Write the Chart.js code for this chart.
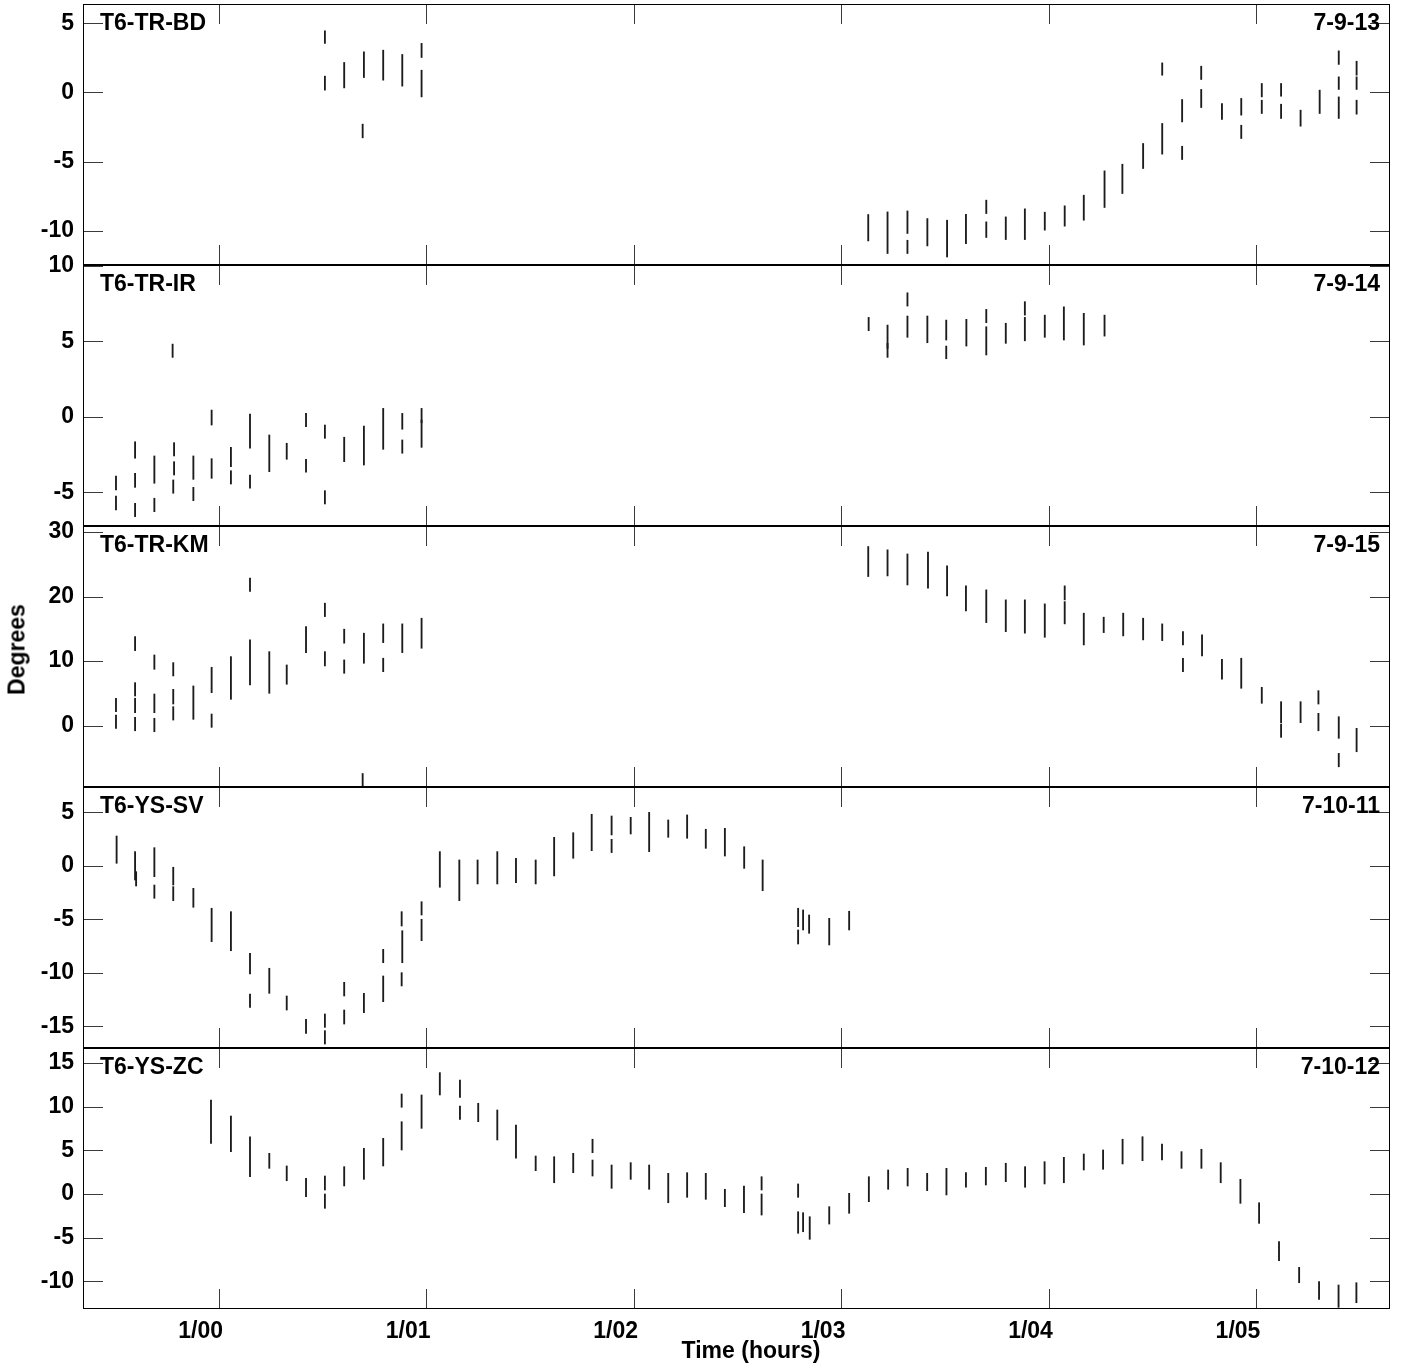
<!DOCTYPE html>
<html>
<head>
<meta charset="utf-8">
<script src="https://cdn.jsdelivr.net/npm/chart.js@4.4.1/dist/chart.umd.min.js"></script>
<style>
  body { margin: 0; background: #fff; width: 1404px; height: 1368px; position: relative; overflow: hidden;
         font-family: 'Liberation Sans', Arial, sans-serif; }
  .panel { position: absolute; left: 0; width: 1404px; }
  .lbl { position: absolute; font-weight: bold; font-size: 23px; line-height: 23px; color: #000; white-space: nowrap; }
</style>
</head>
<body>
<script>
// --- Data ---

const xTickHours = [0, 1, 2, 3, 4, 5];
const xTickLabels = ['1/00', '1/01', '1/02', '1/03', '1/04', '1/05'];
const xRange = [-0.654, 5.646];

const panelNames = ['T6-TR-BD', 'T6-TR-IR', 'T6-TR-KM', 'T6-YS-SV', 'T6-YS-ZC'];
const panelDates = ['7-9-13', '7-9-14', '7-9-15', '7-10-11', '7-10-12'];
const panelYTicks = [[5, 0, -5, -10], [10, 5, 0, -5], [30, 20, 10, 0], [5, 0, -5, -10, -15], [15, 10, 5, 0, -5, -10]];
const panelYRange = [[-12.48, 6.40], [-7.24, 10.05], [-9.49, 30.93], [-17.01, 7.38], [-13.17, 16.72]];

// [hour, low deg, high deg]
const bdSegments = [
  [0.512, 3.55, 4.46], [0.512, 0.17, 1.18], [0.605, 0.33, 2.17], [0.694, -3.28, -2.29], [0.700, 1.08, 2.94],
  [0.793, 0.89, 3.06], [0.885, 0.46, 2.75], [0.978, 2.53, 3.55], [0.978, -0.32, 1.61],
  [3.131, -10.74, -8.83], [3.224, -11.65, -8.64], [3.320, -10.2, -8.57], [3.320, -11.65, -10.69],
  [3.416, -11.1, -9.12], [3.511, -11.9, -9.24], [3.602, -10.93, -8.81], [3.700, -8.76, -7.79],
  [3.700, -10.49, -9.36], [3.794, -10.64, -9.0], [3.886, -10.64, -8.42], [3.982, -9.96, -8.66],
  [4.078, -9.67, -8.2], [4.170, -9.24, -7.43], [4.270, -8.32, -5.67], [4.356, -7.31, -5.19],
  [4.456, -5.5, -3.69], [4.548, -4.46, -2.24], [4.548, 1.25, 2.14], [4.644, -2.13, -0.51],
  [4.644, -4.85, -3.89], [4.736, 0.94, 1.9], [4.736, -1.09, 0.22], [4.836, -1.95, -0.8],
  [4.929, -1.64, -0.43], [4.929, -3.33, -2.37], [5.028, -0.32, 0.65], [5.028, -1.52, -0.56],
  [5.121, -0.27, 0.65], [5.121, -1.88, -0.85], [5.215, -2.44, -1.28], [5.307, -1.52, 0.17],
  [5.399, 2.03, 3.01], [5.399, 0.22, 1.13], [5.399, -1.88, -0.32],
  [5.485, 1.25, 2.26], [5.485, 0.22, 1.13], [5.485, -1.57, -0.56]
];

const irSegments = [
  [-0.495, -4.85, -3.93], [-0.495, -6.18, -5.25],
  [-0.403, -2.75, -1.66], [-0.403, -4.68, -3.75], [-0.403, -6.62, -5.74],
  [-0.310, -4.41, -2.6], [-0.310, -6.29, -5.4],
  [-0.222, 3.93, 4.81], [-0.215, -2.6, -1.72], [-0.215, -3.86, -2.98], [-0.219, -5.07, -4.19],
  [-0.122, -4.15, -2.6], [-0.122, -5.56, -4.68],
  [-0.034, -0.55, 0.44], [-0.034, -4.08, -2.78],
  [0.059, -3.31, -2.03], [0.059, -4.46, -3.58],
  [0.151, -2.09, 0.18], [0.151, -4.74, -3.86],
  [0.244, -3.64, -1.21], [0.328, -2.82, -1.76],
  [0.421, -0.66, 0.22], [0.421, -3.68, -2.82],
  [0.512, -1.43, -0.55], [0.512, -5.78, -4.9],
  [0.605, -2.98, -1.36], [0.700, -3.2, -0.62], [0.793, -2.16, 0.55],
  [0.885, -0.83, 0.22], [0.885, -2.42, -1.54],
  [0.978, -0.4, 0.55], [0.978, -2.03, -0.22],
  [3.133, 5.7, 6.58], [3.224, 4.53, 6.07], [3.224, 3.93, 4.86],
  [3.320, 5.26, 6.67], [3.320, 7.33, 8.21], [3.416, 4.9, 6.67],
  [3.507, 5.08, 6.4], [3.507, 3.84, 4.68], [3.604, 4.68, 6.45],
  [3.700, 6.23, 7.11], [3.700, 4.09, 5.96], [3.794, 4.86, 6.19],
  [3.886, 6.73, 7.62], [3.886, 5.03, 6.58], [3.982, 5.26, 6.73],
  [4.074, 5.08, 7.28], [4.170, 4.75, 6.85], [4.270, 5.34, 6.73]
];

const kmSegments = [
  [-0.495, 2.17, 4.25], [-0.495, -0.4, 1.66],
  [-0.403, 11.63, 13.8], [-0.403, 4.6, 6.67], [-0.403, 2.02, 4.25], [-0.403, -0.78, 1.3],
  [-0.310, 8.74, 10.96], [-0.310, 2.02, 4.91], [-0.310, -0.93, 1.15],
  [-0.219, 7.71, 9.77], [-0.219, 3.36, 5.64], [-0.219, 0.88, 2.95],
  [-0.122, 0.99, 6.16], [-0.034, 5.12, 9.05], [-0.034, -0.25, 1.81],
  [0.059, 4.09, 10.7], [0.151, 20.78, 22.85], [0.151, 6.31, 13.29],
  [0.244, 5.02, 11.47], [0.328, 6.42, 9.41], [0.421, 11.32, 15.35],
  [0.512, 16.9, 18.98], [0.512, 9.26, 11.47],
  [0.605, 12.78, 14.95], [0.605, 8.12, 10.19],
  [0.694, -9.5, -7.4], [0.700, 9.67, 14.33],
  [0.793, 12.87, 15.77], [0.793, 8.37, 10.45],
  [0.885, 11.32, 15.77], [0.978, 12.0, 16.65],
  [3.131, 23.1, 27.75], [3.224, 23.2, 27.24], [3.320, 21.8, 26.6], [3.419, 21.3, 26.9],
  [3.511, 20.1, 24.76], [3.602, 17.78, 21.66], [3.700, 15.97, 21.04], [3.794, 14.57, 19.49],
  [3.886, 14.33, 19.49], [3.982, 13.7, 18.87], [4.078, 19.49, 21.66], [4.078, 15.77, 19.22],
  [4.170, 12.51, 17.43], [4.266, 14.42, 16.81], [4.360, 13.91, 17.43], [4.456, 13.29, 16.65],
  [4.548, 13.18, 15.77], [4.648, 12.51, 14.57], [4.648, 8.37, 10.45], [4.740, 10.81, 14.06],
  [4.836, 7.19, 10.29], [4.929, 5.8, 10.45], [5.028, 3.47, 5.95],
  [5.121, 0.47, 3.72], [5.121, -1.8, 0.26], [5.215, 0.47, 3.72],
  [5.301, 3.36, 5.43], [5.301, -0.78, 1.92],
  [5.399, -1.95, 1.4], [5.399, -6.36, -4.28], [5.485, -4.03, -0.4]
];

const svSegments = [
  [-0.492, 0.25, 2.8], [-0.403, -1.31, 1.34], [-0.398, -1.87, -0.53],
  [-0.310, -1.0, 1.71], [-0.310, -3.02, -1.78],
  [-0.219, -1.78, -0.12], [-0.219, -3.24, -1.93],
  [-0.122, -3.86, -2.09], [-0.034, -7.07, -3.95], [0.059, -7.92, -4.27],
  [0.151, -10.09, -8.16], [0.151, -13.21, -11.96], [0.244, -11.9, -9.56],
  [0.328, -13.46, -12.15], [0.421, -15.64, -14.33],
  [0.512, -15.08, -13.83], [0.512, -16.64, -15.39],
  [0.605, -12.15, -10.87], [0.605, -14.77, -13.46], [0.700, -13.71, -11.9],
  [0.793, -9.04, -7.79], [0.793, -12.68, -10.28],
  [0.882, -5.61, -4.27], [0.885, -9.04, -6.05], [0.882, -11.21, -9.97],
  [0.978, -4.58, -3.34], [0.978, -6.98, -4.98],
  [1.066, -1.99, 1.34], [1.160, -3.24, 0.56], [1.248, -1.68, 0.56], [1.343, -1.68, 1.34],
  [1.433, -1.56, 0.72], [1.528, -1.68, 0.56], [1.617, -0.93, 2.68], [1.709, 0.72, 3.11],
  [1.798, 1.43, 4.83], [1.894, 2.9, 4.67], [1.894, 1.25, 2.49], [1.986, 2.99, 4.55],
  [2.075, 1.34, 5.01], [2.167, 2.68, 4.3], [2.258, 2.59, 4.77], [2.348, 1.65, 3.43],
  [2.440, 0.93, 3.52], [2.533, -0.22, 1.8], [2.622, -2.31, 0.56],
  [2.793, -5.67, -3.95], [2.793, -7.29, -5.98], [2.817, -5.98, -4.11], [2.846, -6.29, -4.58],
  [2.943, -7.38, -4.89], [3.039, -5.98, -4.23]
];

const zcSegments = [
  [-0.037, 5.8, 10.77], [0.059, 4.85, 8.93], [0.151, 1.98, 6.56], [0.244, 2.94, 4.66],
  [0.328, 1.52, 3.21], [0.421, -0.31, 1.8], [0.512, 0.46, 2.06], [0.512, -1.64, 0],
  [0.605, 0.92, 3.13], [0.700, 1.68, 5.23], [0.793, 3.21, 6.38],
  [0.882, 9.93, 11.45], [0.882, 5.04, 8.28], [0.978, 7.52, 11.34], [1.066, 11.34, 13.9],
  [1.163, 11.07, 13.06], [1.163, 8.55, 10.08], [1.251, 8.28, 10.39], [1.343, 6.19, 9.62],
  [1.433, 4.09, 7.9], [1.528, 2.67, 4.35], [1.617, 1.29, 4.27], [1.709, 2.44, 4.66],
  [1.802, 4.73, 6.27], [1.802, 2.06, 3.89], [1.894, 0.65, 3.32], [1.986, 1.68, 3.59],
  [2.075, 0.54, 3.32], [2.167, -1.0, 2.37], [2.258, -0.38, 2.44], [2.348, -0.61, 2.37],
  [2.440, -1.45, 0.54], [2.532, -2.14, 0.92], [2.617, 0.46, 1.98], [2.617, -2.41, 0],
  [2.793, -0.38, 1.15], [2.793, -4.5, -2.03], [2.817, -4.32, -2.14], [2.849, -5.19, -2.6],
  [2.943, -3.44, -1.45], [3.039, -2.21, 0.08], [3.134, -0.88, 1.98], [3.227, 0.54, 2.75],
  [3.321, 0.92, 2.94], [3.415, 0.38, 2.37], [3.508, -0.11, 2.94], [3.602, 0.77, 2.44],
  [3.698, 1.03, 3.06], [3.794, 1.41, 3.52], [3.887, 0.77, 3.13], [3.981, 1.15, 3.7],
  [4.074, 1.29, 4.2], [4.170, 2.75, 4.58], [4.263, 2.83, 5.04], [4.357, 3.44, 6.27],
  [4.453, 3.81, 6.56], [4.547, 3.89, 5.73], [4.641, 2.94, 4.85], [4.737, 2.94, 5.12],
  [4.830, 1.29, 3.59], [4.925, -1.07, 1.68], [5.015, -3.36, -1.0], [5.111, -7.64, -5.46],
  [5.208, -10.16, -8.4], [5.304, -12.06, -10.04], [5.398, -12.98, -10.42], [5.484, -12.45, -10.16]
];

const panelSegments = [bdSegments, irSegments, kmSegments, svSegments, zcSegments];

// --- Layout ---

const FONT = "'Liberation Sans', Arial, sans-serif";
const PANEL_TOPS = [4, 265, 526, 787, 1048];
const PANEL_H = 261;
const PAD = 32; // larger than the y-axis label half height + padding, so the plot box is exact
const TICK_LEN = 20;

// Inward tick marks + frame, drawn from the chart's own scales
const framePlugin = {
  id: 'frame',
  afterDatasetsDraw(chart) {
    const { ctx, chartArea: a, scales: { x, y } } = chart;
    ctx.save();
    ctx.lineWidth = 1;
    ctx.strokeStyle = '#3a3a3a';
    ctx.beginPath();
    x.ticks.forEach(t => {
      const px = Math.round(x.getPixelForValue(t.value)) + 0.5;
      ctx.moveTo(px, a.top); ctx.lineTo(px, a.top + TICK_LEN);
      ctx.moveTo(px, a.bottom); ctx.lineTo(px, a.bottom - TICK_LEN);
    });
    y.ticks.forEach(t => {
      const py = Math.round(y.getPixelForValue(t.value)) + 0.5;
      ctx.moveTo(a.left, py); ctx.lineTo(a.left + TICK_LEN, py);
      ctx.moveTo(a.right, py); ctx.lineTo(a.right - TICK_LEN, py);
    });
    ctx.stroke();
    ctx.strokeStyle = '#000';
    ctx.strokeRect(a.left + 0.5, a.top + 0.5, a.right - a.left - 1, a.bottom - a.top - 1);
    ctx.restore();
  }
};

function makePanel(i) {
  const last = i === panelNames.length - 1;
  const top = PANEL_TOPS[i] - PAD;
  const height = last ? 1368 - top : PANEL_H + 2 * PAD;

  const wrap = document.createElement('div');
  wrap.className = 'panel';
  wrap.style.top = top + 'px';
  wrap.style.height = height + 'px';
  const canvas = document.createElement('canvas');
  wrap.appendChild(canvas);
  document.body.appendChild(wrap);

  const yTicks = panelYTicks[i];

  new Chart(canvas, {
    type: 'bar',
    data: {
      datasets: [{
        data: panelSegments[i].map(s => ({ x: s[0], y: [s[1], s[2]] })),
        backgroundColor: '#1c1c1c',
        borderWidth: 0,
        barThickness: 1.2
      }]
    },
    options: {
      responsive: true,
      maintainAspectRatio: false,
      animation: false,
      events: [],
      layout: { padding: { top: PAD, bottom: last ? 0 : PAD, left: 0, right: 14 } },
      plugins: { legend: { display: false }, tooltip: { enabled: false } },
      scales: {
        x: {
          type: 'linear',
          offset: false,
          min: xRange[0],
          max: xRange[1],
          grid: { display: false, drawTicks: false, offset: false },
          border: { display: false },
          afterBuildTicks: (s) => { s.ticks = xTickHours.map(v => ({ value: v })); },
          afterFit: (s) => { s.height = last ? 1368 - 1309 : 0; },
          ticks: {
            display: last,
            autoSkip: false,
            maxRotation: 0,
            padding: 9,
            labelOffset: -18,
            color: '#000',
            font: { family: FONT, size: 23, weight: 'bold' },
            callback: (v, idx) => xTickLabels[idx]
          }
        },
        y: {
          min: panelYRange[i][0],
          max: panelYRange[i][1],
          grid: { display: false, drawTicks: false },
          border: { display: false },
          afterBuildTicks: (s) => { s.ticks = yTicks.map(v => ({ value: v })); },
          afterFit: (s) => { s.width = 83; },
          ticks: {
            autoSkip: false,
            padding: 9,
            color: '#000',
            font: { family: FONT, size: 23, weight: 'bold' },
            callback: (v) => String(v)
          }
        }
      }
    },
    plugins: [framePlugin]
  });

  const name = document.createElement('div');
  name.className = 'lbl';
  name.style.left = '100px';
  name.style.top = (PANEL_TOPS[i] + 7) + 'px';
  name.textContent = panelNames[i];
  document.body.appendChild(name);

  const date = document.createElement('div');
  date.className = 'lbl';
  date.style.right = '24px';
  date.style.top = (PANEL_TOPS[i] + 7) + 'px';
  date.textContent = panelDates[i];
  document.body.appendChild(date);
}

panelNames.forEach((_, i) => makePanel(i));

// Axis titles
const yTitle = document.createElement('div');
yTitle.className = 'lbl';
yTitle.style.cssText = 'left:-43px;top:638px;width:120px;text-align:center;transform:rotate(-90deg);';
yTitle.textContent = 'Degrees';
document.body.appendChild(yTitle);

const xTitle = document.createElement('div');
xTitle.className = 'lbl';
xTitle.style.cssText = 'left:601px;top:1339px;width:300px;text-align:center;';
xTitle.textContent = 'Time (hours)';
document.body.appendChild(xTitle);
</script>
</body>
</html>
